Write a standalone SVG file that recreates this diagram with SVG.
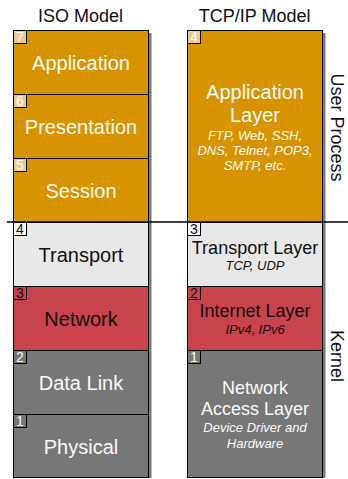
<svg xmlns="http://www.w3.org/2000/svg" width="348" height="479" viewBox="0 0 348 479">
<style>
text{font-family:"Liberation Sans",Arial,sans-serif}
.box{stroke:#000;stroke-width:1}
.or{fill:#d79400}
.lt{fill:#e8e8e8}
.rd{fill:#c9434f}
.gy{fill:#777777}
.sh{fill:#7a7a7a}
.t{font-size:20px;text-anchor:middle}
.m{font-size:18px;text-anchor:middle}
.s{font-size:13px;font-style:italic;text-anchor:middle}
.w{fill:#fafafa}
.k{fill:#111}
.bn{font-size:14px;text-anchor:middle}
.title{font-size:18px;text-anchor:middle;fill:#111}
.bo{fill:#ecc98c;stroke:#000}
</style>
<text class="title" x="80.5" y="22">ISO Model</text>
<text class="title" x="254.7" y="22">TCP/IP Model</text>
<rect class="sh" x="148" y="33" width="3.5" height="445"/>
<rect class="sh" x="322" y="33" width="3.5" height="445"/>
<g id="iso-application">
<rect class="box or" x="13.5" y="30.5" width="135" height="64"/>
<rect class="bo" x="13.5" y="30.5" width="13" height="13"/>
<text class="bn w" x="20" y="42">7</text>
<text class="t w" x="81" y="69.5">Application</text>
</g>
<g id="iso-presentation">
<rect class="box or" x="13.5" y="94.5" width="135" height="64"/>
<rect class="bo" x="13.5" y="94.5" width="13" height="13"/>
<text class="bn w" x="20" y="106">6</text>
<text class="t w" x="81" y="133.5">Presentation</text>
</g>
<g id="iso-session">
<rect class="box or" x="13.5" y="158.5" width="135" height="64"/>
<rect class="bo" x="13.5" y="158.5" width="13" height="13"/>
<text class="bn w" x="20" y="170">5</text>
<text class="t w" x="81" y="197.5">Session</text>
</g>
<g id="iso-transport">
<rect class="box lt" x="13.5" y="222.5" width="135" height="64"/>
<rect x="13.5" y="222.5" width="13" height="13" fill="#f6f6f6" stroke="#000"/>
<text class="bn k" x="20" y="234">4</text>
<text class="t k" x="81" y="261.5">Transport</text>
</g>
<g id="iso-network">
<rect class="box rd" x="13.5" y="286.5" width="135" height="64"/>
<rect x="13.5" y="286.5" width="13" height="13" fill="#c9434f" stroke="#000"/>
<text class="bn k" x="20" y="298">3</text>
<text class="t k" x="81" y="325.5">Network</text>
</g>
<g id="iso-datalink">
<rect class="box gy" x="13.5" y="350.5" width="135" height="64"/>
<rect x="13.5" y="350.5" width="13" height="13" fill="#777777" stroke="#000"/>
<text class="bn w" x="20" y="362">2</text>
<text class="t w" x="81" y="389.5">Data Link</text>
</g>
<g id="iso-physical">
<rect class="box gy" x="13.5" y="414.5" width="135" height="63"/>
<rect x="13.5" y="414.5" width="13" height="13" fill="#777777" stroke="#000"/>
<text class="bn w" x="20" y="426">1</text>
<text class="t w" x="81" y="453.5">Physical</text>
</g>
<g id="tcp-application">
<rect class="box or" x="187.5" y="30.5" width="135" height="192"/>
<rect class="bo" x="187.5" y="30.5" width="13" height="13"/>
<text class="bn w" x="194" y="42">4</text>
<text class="t w" x="255" y="98.5">Application</text>
<text class="t w" x="255" y="121.5">Layer</text>
<text class="s w" x="255" y="140">FTP, Web, SSH,</text>
<text class="s w" x="255" y="155">DNS, Telnet, POP3,</text>
<text class="s w" x="255" y="170">SMTP, etc.</text>
</g>
<g id="tcp-transport">
<rect class="box lt" x="187.5" y="222.5" width="135" height="64"/>
<rect x="187.5" y="222.5" width="13" height="13" fill="#f6f6f6" stroke="#000"/>
<text class="bn k" x="194" y="234">3</text>
<text class="m k" x="255" y="253.5">Transport Layer</text>
<text class="s k" x="255" y="269.5">TCP, UDP</text>
</g>
<g id="tcp-internet">
<rect class="box rd" x="187.5" y="286.5" width="135" height="64"/>
<rect x="187.5" y="286.5" width="13" height="13" fill="#c9434f" stroke="#000"/>
<text class="bn k" x="194" y="298">2</text>
<text class="m k" x="255" y="317">Internet Layer</text>
<text class="s k" x="255" y="333.5">IPv4, IPv6</text>
</g>
<g id="tcp-netaccess">
<rect class="box gy" x="187.5" y="350.5" width="135" height="127"/>
<rect x="187.5" y="350.5" width="13" height="13" fill="#777777" stroke="#000"/>
<text class="bn w" x="194" y="362">1</text>
<text class="m w" x="255" y="394">Network</text>
<text class="m w" x="255" y="415">Access Layer</text>
<text class="s w" x="255" y="432">Device Driver and</text>
<text class="s w" x="255" y="448">Hardware</text>
</g>
<g id="connectors">
<line x1="7" y1="222" x2="348" y2="222" stroke="#000" stroke-width="1.5"/>
</g>
<g id="labels">
<text class="m k" transform="translate(331,127.5) rotate(90)">User Process</text>
<text class="m k" transform="translate(331,356) rotate(90)">Kernel</text>
</g>
</svg>
